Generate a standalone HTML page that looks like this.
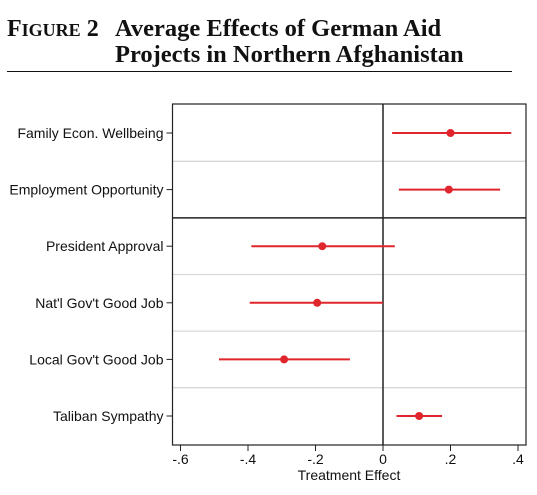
<!DOCTYPE html>
<html><head><meta charset="utf-8"><style>
body{margin:0;background:#fff;width:537px;height:495px;overflow:hidden}
svg{display:block}
</style></head><body>
<svg width="537" height="495" xmlns="http://www.w3.org/2000/svg">
<text x="7" y="36" font-family="Liberation Serif, serif" font-weight="bold" font-size="24" fill="#111">F<tspan font-size="18">IGURE</tspan> 2</text>
<text x="115" y="36" font-family="Liberation Serif, serif" font-weight="bold" font-size="24.5" fill="#111">Average Effects of German Aid</text>
<text x="115" y="62" font-family="Liberation Serif, serif" font-weight="bold" font-size="24.5" fill="#111">Projects in Northern Afghanistan</text>
<line x1="7" y1="71.5" x2="512" y2="71.5" stroke="#111" stroke-width="1"/>
<g id="chart"></g>
</svg>
<script>
const categories=["Family Econ. Wellbeing","Employment Opportunity","President Approval","Nat'l Gov't Good Job","Local Gov't Good Job","Taliban Sympathy"];
const estimates=[0.20,0.195,-0.18,-0.195,-0.293,0.107];
const ciLow=[0.027,0.047,-0.39,-0.395,-0.486,0.04];
const ciHigh=[0.38,0.347,0.035,0.0,-0.098,0.175];
const tickValues=[-0.6,-0.4,-0.2,0,0.2,0.4];
const tickLabels=["-.6","-.4","-.2","0",".2",".4"];
const L=172.5,R=526,T=104,B=445;
const x=v=>383+v*337.5;
const y=i=>133+i*56.6;
const NS="http://www.w3.org/2000/svg";
const g=document.getElementById('chart');
function mk(t,a){const e=document.createElementNS(NS,t);for(const k in a)e.setAttribute(k,a[k]);g.appendChild(e);return e;}
for(let i=0;i<categories.length-1;i++){
  const yy=(y(i)+y(i+1))/2;
  const l=mk('line',{x1:L,x2:R,y1:yy,y2:yy,stroke:i===1?'#222':'#d8d8d8','stroke-width':i===1?1.5:1.3});
  
  
}
const zl=mk('line',{x1:x(0),x2:x(0),y1:T,y2:B,stroke:'#222','stroke-width':1.5});


const box=mk('rect',{x:L,y:T,width:R-L,height:B-T,fill:'none',stroke:'#222','stroke-width':1.2});


categories.forEach((c,i)=>{
  const tk=mk('line',{x1:L-6,x2:L,y1:y(i),y2:y(i),stroke:'#222'});
  
  
  const t=mk('text',{x:L-9,y:y(i)+5,'text-anchor':'end','font-family':'Liberation Sans, sans-serif','font-size':'14',fill:'#111'});
  t.textContent=c;
  
  
  const ci=mk('line',{x1:x(ciLow[i]),x2:x(ciHigh[i]),y1:y(i),y2:y(i),stroke:'#e0262c','stroke-width':2});
  
  
  const p=mk('circle',{cx:x(estimates[i]),cy:y(i),r:4,fill:'#e0262c'});
  
  
});
tickValues.forEach((v,i)=>{
  const tk=mk('line',{x1:x(v),x2:x(v),y1:B,y2:B+6,stroke:'#222'});
  
  
  const t=mk('text',{x:x(v),y:B+19,'text-anchor':'middle','font-family':'Liberation Sans, sans-serif','font-size':'14',fill:'#111'});
  t.textContent=tickLabels[i];
  
  
});
const xt=mk('text',{x:349,y:480,'text-anchor':'middle','font-family':'Liberation Sans, sans-serif','font-size':'14',fill:'#111'});
xt.textContent='Treatment Effect';


</script>
</body></html>
